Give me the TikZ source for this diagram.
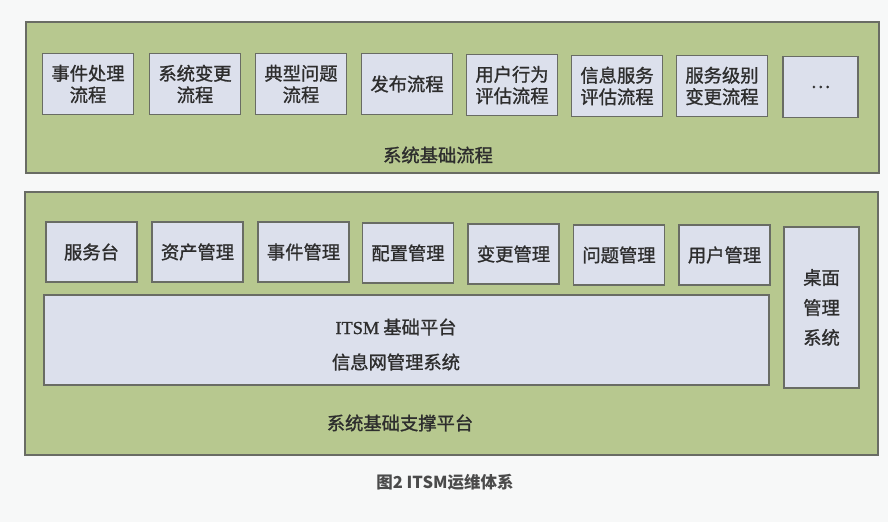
\documentclass[tikz,border=0pt]{standalone}
\usepackage{fontspec}
\newfontfamily\cjk[FakeBold=1.2]{Noto Sans CJK SC}
\newfontfamily\capfont{Noto Sans CJK SC}
\newfontfamily\latinserif[FakeBold=1.2]{Liberation Serif}
\definecolor{bgc}{RGB}{247,248,248}
\definecolor{greenfill}{RGB}{183,200,143}
\definecolor{boxfill}{RGB}{220,224,236}
\definecolor{edgec}{RGB}{105,108,100}
\definecolor{txtc}{RGB}{45,45,45}
\definecolor{capc}{RGB}{75,75,75}
\tikzset{
  panel/.style={draw=edgec, line width=1.3pt, fill=greenfill},
  item/.style={draw=edgec, line width=1.3pt, fill=boxfill, text=txtc,
    font=\cjk\fontsize{18.3}{21.5}\selectfont, align=center, inner sep=0pt,
    minimum width=91pt, minimum height=61pt},
  label/.style={text=txtc, font=\cjk\fontsize{18.3}{21.5}\selectfont, align=center, inner sep=0pt},
}
\begin{document}
\begin{tikzpicture}[x=1pt,y=-1pt]
\useasboundingbox (0,0) rectangle (888,522);
\fill[bgc] (0,0) rectangle (888,522);
% top panel
\node[panel, minimum width=853pt, minimum height=151pt, inner sep=0pt] (top) at (452.5,97.5) {};
\node[item] (p1) at (88,84) {事件处理\\流程};
\node[item] (p2) at (195,84) {系统变更\\流程};
\node[item] (p3) at (301,84) {典型问题\\流程};
\node[item] (p4) at (407,84) {发布流程};
\node[item] (p5) at (512,85) {用户行为\\评估流程};
\node[item] (p6) at (617,86) {信息服务\\评估流程};
\node[item] (p7) at (722,86) {服务级别\\变更流程};
\node[item, minimum width=75pt] (p8) at (820.5,87) {…};
\node[label] (toplabel) at (438,155) {系统基础流程};
% bottom panel
\node[panel, minimum width=853pt, minimum height=263pt, inner sep=0pt] (bot) at (451.5,323.5) {};
\node[item, minimum height=60pt] (m1) at (91.5,252) {服务台};
\node[item, minimum height=60pt] (m2) at (197.5,252) {资产管理};
\node[item, minimum height=60pt] (m3) at (303.5,252) {事件管理};
\node[item, minimum height=60pt] (m4) at (408,253) {配置管理};
\node[item, minimum height=60pt] (m5) at (513.5,254) {变更管理};
\node[item, minimum height=60pt] (m6) at (619,255) {问题管理};
\node[item, minimum height=60pt] (m7) at (724.5,255) {用户管理};
\node[item, minimum width=75pt, minimum height=161pt, font=\cjk\fontsize{18.3}{30}\selectfont] (desk) at (821.5,307.5) {桌面\\管理\\系统};
\node[item, minimum width=725pt, minimum height=90pt] (itsm) at (406.5,340) {};
\node[label] (itsm1) at (396,327) {{\latinserif ITSM} 基础平台};
\node[label] (itsm2) at (396,362) {信息网管理系统};
\node[label] (botlabel) at (400,423) {系统基础支撑平台};
% caption
\node[text=capc, font=\capfont\bfseries\fontsize{16.5}{18}\selectfont, inner sep=0pt] (cap) at (445,482) {图2\ ITSM运维体系};
\end{tikzpicture}
\end{document}
